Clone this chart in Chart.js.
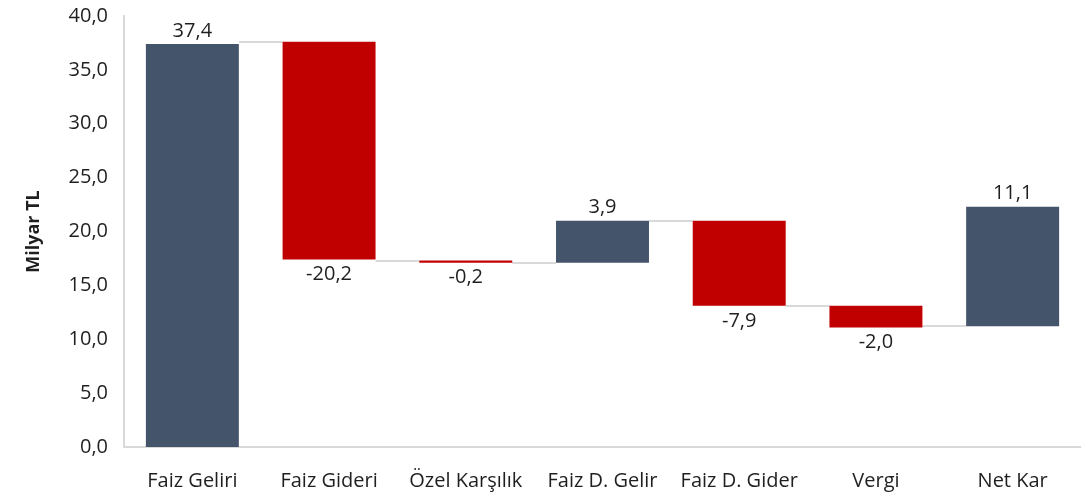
<!DOCTYPE html>
<html lang="tr">
<head>
<meta charset="utf-8">
<title>Net Kar Köprüsü</title>
<script src="https://cdn.jsdelivr.net/npm/chart.js@4.4.1/dist/chart.umd.min.js"></script>
<style>
  html, body { margin: 0; padding: 0; background: #fff; }
  #wrap { width: 1081px; height: 495px; }
</style>
</head>
<body>
<div id="wrap"><canvas id="bridgeChart" width="1081" height="495"></canvas></div>
<script>
// Kalemler ve değerleri (milyar TL)
const categories = ['Faiz Geliri', 'Faiz Gideri', 'Özel Karşılık', 'Faiz D. Gelir', 'Faiz D. Gider', 'Vergi', 'Net Kar'];
const values = [37.4, -20.2, -0.2, 3.9, -7.9, -2.0, 11.1];
// Her çubuğun başladığı seviye
const starts = [0, 37.6, 17.3, 17.1, 21.0, 13.1, 11.2];
const yTicks = [0, 5, 10, 15, 20, 25, 30, 35, 40];

const NAVY = '#44546A';
const RED = '#C00000';
const TEXT = '#1f1f1f';
const FONT = "'Open Sans', 'Liberation Sans', sans-serif";

const fmt = v => v.toFixed(1).replace('.', ',');

// Yüzen çubuklar: [başlangıç, bitiş]
const ranges = values.map((v, i) => [starts[i], starts[i] + v]);
const colors = values.map((v, i) => (i === values.length - 1 || v >= 0) ? NAVY : RED);

// Çubuklar arasındaki gri bağlantı çizgileri
const connectorPlugin = {
    id: 'connectors',
    beforeDatasetsDraw(chart) {
        const ctx = chart.ctx;
        const bars = chart.getDatasetMeta(0).data;
        const y = chart.scales.y;
        ctx.save();
        ctx.strokeStyle = '#d9d9d9';
        ctx.lineWidth = 2;
        for (let i = 0; i < bars.length - 1; i++) {
            const a = bars[i], b = bars[i + 1];
            const py = Math.round(y.getPixelForValue(starts[i + 1]));
            ctx.beginPath();
            ctx.moveTo(a.x + a.width / 2, py);
            ctx.lineTo(b.x - b.width / 2, py);
            ctx.stroke();
        }
        ctx.restore();
    }
};

// Değer etiketleri: artışlar üstte, azalışlar altta
const valueLabelPlugin = {
    id: 'valueLabels',
    afterDatasetsDraw(chart) {
        const ctx = chart.ctx;
        const bars = chart.getDatasetMeta(0).data;
        const y = chart.scales.y;
        ctx.save();
        ctx.font = '20px ' + FONT;
        ctx.fillStyle = TEXT;
        ctx.textAlign = 'center';
        ctx.textBaseline = 'middle';
        bars.forEach((bar, i) => {
            const v = values[i];
            const top = y.getPixelForValue(Math.max(ranges[i][0], ranges[i][1]));
            const bottom = y.getPixelForValue(Math.min(ranges[i][0], ranges[i][1]));
            const py = v >= 0 ? top - 13 : bottom + 15;
            ctx.fillText(fmt(v), bar.x, py);
        });
        ctx.restore();
    }
};

const ctx = document.getElementById('bridgeChart').getContext('2d');
new Chart(ctx, {
    type: 'bar',
    data: {
        labels: categories,
        datasets: [{
            data: ranges,
            backgroundColor: colors,
            borderWidth: 0,
            borderSkipped: false,
            barPercentage: 0.68,
            categoryPercentage: 1.0
        }]
    },
    options: {
        responsive: false,
        animation: false,
        layout: { padding: { top: 5, right: 0, bottom: 0, left: 0 } },
        plugins: {
            legend: { display: false },
            tooltip: { enabled: false }
        },
        scales: {
            x: {
                grid: { display: false, drawTicks: false },
                border: { display: true, color: '#d9d9d9', width: 2 },
                ticks: {
                    color: TEXT,
                    font: { family: FONT, size: 20 },
                    padding: 22,
                    maxRotation: 0
                },
                afterFit(scale) { scale.height = 48; }
            },
            y: {
                min: 0,
                max: 40,
                grid: { display: false, drawTicks: false },
                border: { display: true, color: '#d9d9d9', width: 2 },
                afterBuildTicks(scale) {
                    scale.ticks = yTicks.map(v => ({ value: v }));
                },
                ticks: {
                    color: TEXT,
                    font: { family: FONT, size: 20 },
                    padding: 16,
                    callback: v => fmt(v)
                },
                title: {
                    display: true,
                    text: 'Milyar TL',
                    color: TEXT,
                    font: { family: FONT, size: 18, weight: 'bold' },
                    padding: { top: 23, bottom: 0 }
                },
                afterFit(scale) {
                    scale.width = 124;
                    scale.paddingTop = 16;
                }
            }
        }
    },
    plugins: [connectorPlugin, valueLabelPlugin]
});
</script>
</body>
</html>
